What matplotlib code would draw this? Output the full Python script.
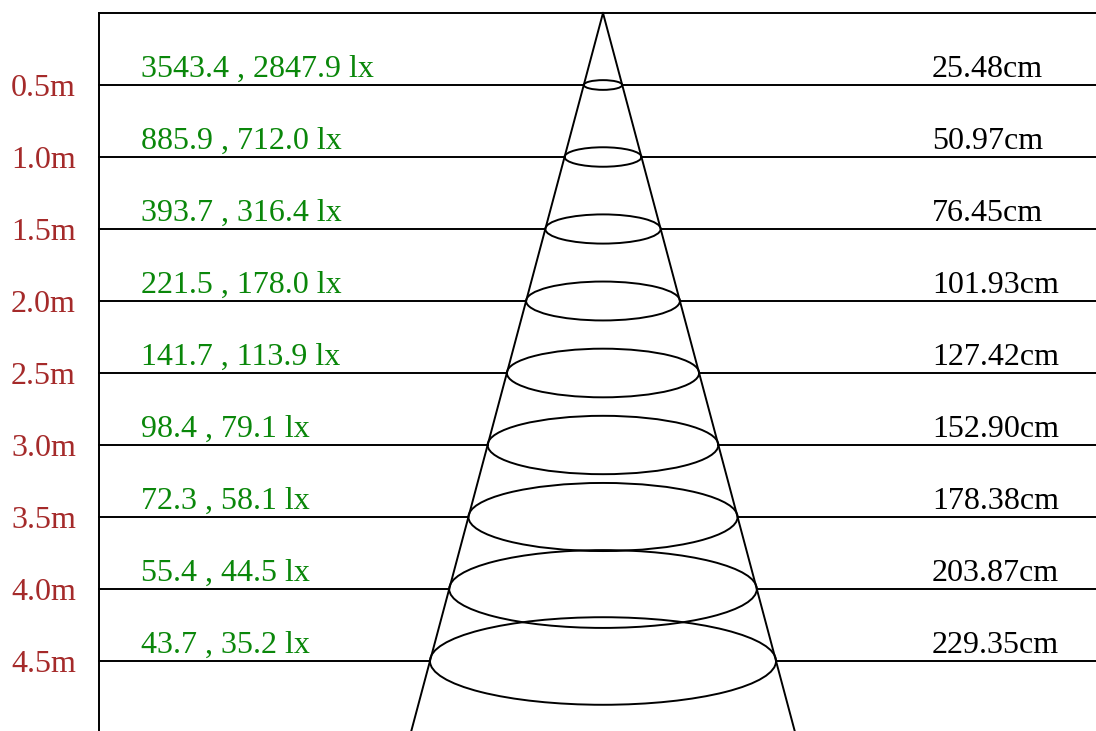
import numpy as np
import matplotlib.pyplot as plt
from matplotlib.patches import Ellipse

# =============================
# Data
# =============================
distances = [0.5, 1.0, 1.5, 2.0, 2.5, 3.0, 3.5, 4.0, 4.5]          # m
lux_center = [3543.4, 885.9, 393.7, 221.5, 141.7, 98.4, 72.3, 55.4, 43.7]
lux_edge = [2847.9, 712.0, 316.4, 178.0, 113.9, 79.1, 58.1, 44.5, 35.2]
diameters = [25.48, 50.97, 76.45, 101.93, 127.42, 152.90, 178.38, 203.87, 229.35]  # cm

# =============================
# Layout (pixel scale of the drawing)
# =============================
W, H = 1096, 731
px_per_cm = 1.509      # horizontal
px_per_m = 144.0       # vertical
cx_px, top_px = 603, 13
ell_ratio = 0.253      # ellipse height / width on screen

plt.rcParams['font.family'] = ['Liberation Serif', 'DejaVu Serif']
fs = 23
red = '#a52a2a'
green = '#0a870a'
lw = 1.4

fig = plt.figure(figsize=(W / 100, H / 100), dpi=100)
ax = fig.add_axes([0, 0, 1, 1])
ax.set_xlim(-cx_px / px_per_cm, (W - cx_px) / px_per_cm)
ax.set_ylim((H - top_px) / px_per_m, -top_px / px_per_m)
ax.axis('off')

x0, x1 = ax.get_xlim()
y_bot = ax.get_ylim()[0]
left = (99 - cx_px) / px_per_cm

# frame: top line and left line
ax.plot([left, x1], [0, 0], color='black', lw=lw)
ax.plot([left, left], [0, y_bot], color='black', lw=lw)

# cone
slope = diameters[0] / 2 / distances[0]   # cm radius per m
ax.plot([0, -slope * y_bot], [0, y_bot], color='black', lw=lw)
ax.plot([0, slope * y_bot], [0, y_bot], color='black', lw=lw)

for d, lc, le, dia in zip(distances, lux_center, lux_edge, diameters):
    r = dia / 2
    ax.plot([left, -r], [d, d], color='black', lw=lw)
    ax.plot([r, x1], [d, d], color='black', lw=lw)
    h = dia * px_per_cm * ell_ratio / px_per_m
    ax.add_patch(Ellipse((0, d), dia, h, fill=False, ec='black', lw=lw))

    ax.text((76 - cx_px) / px_per_cm, d + 11 / px_per_m, f"{d:.1f}m",
            color=red, fontsize=fs, ha='right', va='baseline')
    ax.text((141 - cx_px) / px_per_cm, d - 8 / px_per_m, f"{lc:.1f} , {le:.1f} lx",
            color=green, fontsize=fs, ha='left', va='baseline')
    ax.text((932 - cx_px) / px_per_cm, d - 8 / px_per_m, f"{dia:.2f}cm",
            color='black', fontsize=fs, ha='left', va='baseline')

plt.savefig("out.png", dpi=100)
